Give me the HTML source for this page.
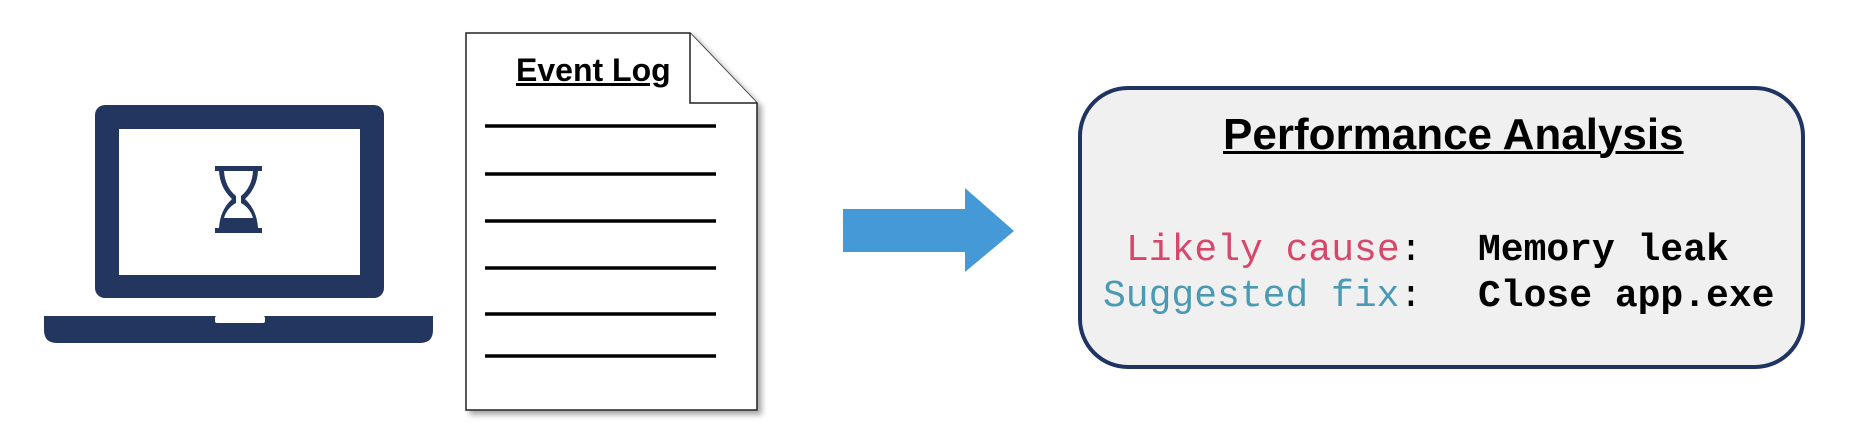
<!DOCTYPE html>
<html><head><meta charset="utf-8"><style>
html,body{margin:0;padding:0;background:#fff;}
body{width:1872px;height:446px;position:relative;overflow:hidden;}
.t{position:absolute;white-space:nowrap;}
</style></head><body>
<svg width="1872" height="446" style="position:absolute;left:0;top:0">
  <defs>
    <filter id="sh" x="-10%" y="-10%" width="130%" height="130%">
      <feDropShadow dx="4" dy="4" stdDeviation="3" flood-color="#000" flood-opacity="0.35"/>
    </filter>
  </defs>
  <rect x="95" y="105" width="289" height="193" rx="10" fill="#22365f"/>
  <rect x="119" y="129" width="241" height="146" fill="#fff"/>
  <path d="M44 316 H433 V330 Q433 343 420 343 H57 Q44 343 44 330 Z" fill="#22365f"/>
  <rect x="215" y="316" width="50" height="7" rx="2" fill="#fff"/>
  <path d="M215 166 H262 V171 H258 Q257 188 245 199 Q257 210 258 228 H262 V233 H215 V228 H219 Q220 210 232 199 Q220 188 219 171 H215 Z" fill="#22365f"/>
  <path d="M224 171 H253 Q252 187 241 196 V203 Q250 208 253 218 H224 Q227 208 236 203 V196 Q225 187 224 171 Z" fill="#fff"/>
  <path d="M466 33 H690 L757 103 V410 H466 Z" fill="#fff" stroke="#222" stroke-width="1.5" filter="url(#sh)"/>
  <path d="M690 33 V103 H757" fill="#fff" stroke="#222" stroke-width="1.5"/>
  <g stroke="#000" stroke-width="3.5">
    <line x1="485" y1="126" x2="716" y2="126"/>
    <line x1="485" y1="174" x2="716" y2="174"/>
    <line x1="485" y1="221" x2="716" y2="221"/>
    <line x1="485" y1="268" x2="716" y2="268"/>
    <line x1="485" y1="314" x2="716" y2="314"/>
    <line x1="485" y1="356" x2="716" y2="356"/>
  </g>
  <path d="M843 209 H965 V188 L1014 231 L965 272 V252 H843 Z" fill="#4499d6"/>
  <rect x="1080" y="88" width="723" height="279" rx="48" fill="#f0f0f0" stroke="#1f3462" stroke-width="4"/>
</svg>
<div class="t" style="left:516px;top:52px;font:bold 32px 'Liberation Sans Narrow','Liberation Sans',sans-serif;text-decoration:underline;">Event Log</div>
<div class="t" style="left:1223px;top:110px;font:bold 44px 'Liberation Sans Narrow','Liberation Sans',sans-serif;text-decoration:underline;text-decoration-thickness:3px;">Performance Analysis</div>
<div class="t" style="left:1126px;top:229px;font:38px 'Liberation Mono',monospace;color:#d6476a;">Likely cause<span style="color:#000">:</span></div>
<div class="t" style="left:1103px;top:275px;font:38px 'Liberation Mono',monospace;color:#4a9ab4;">Suggested fix<span style="color:#000">:</span></div>
<div class="t" style="left:1478px;top:229px;font:bold 38px 'Liberation Mono',monospace;color:#000;">Memory leak</div>
<div class="t" style="left:1478px;top:275px;font:bold 38px 'Liberation Mono',monospace;color:#000;">Close app.exe</div>
</body></html>
